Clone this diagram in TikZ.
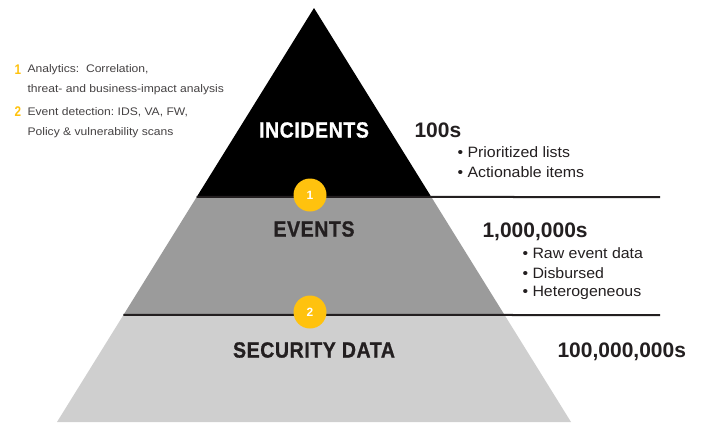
\documentclass[tikz,border=0pt]{standalone}
\usepackage{fontspec}
\setmainfont{Liberation Sans}
\newfontfamily\condbold[FakeStretch=0.89,FakeBold=0.9,LetterSpace=2.5]{Liberation Sans Bold}
\newfontfamily\numbold[FakeStretch=0.84]{Liberation Sans Bold}
\newfontfamily\widefont[FakeStretch=1.06]{Liberation Sans}
\newfontfamily\notefont[FakeStretch=1.1]{Liberation Sans}
\usepackage{tikz}
\usepackage{xcolor}
\usetikzlibrary{calc}
\usetikzlibrary{positioning}

\definecolor{tierblack}{HTML}{000000}
\definecolor{tierdark}{HTML}{9B9B9B}
\definecolor{tierlight}{HTML}{CFCFCF}
\definecolor{marker}{HTML}{FFC20E}
\definecolor{ink}{HTML}{231F20}

\tikzset{
  tiername/.style={font=\condbold\fontsize{22}{24}\selectfont, text=ink},
  count/.style={font=\bfseries\fontsize{21}{23}\selectfont, text=ink, anchor=west},
  bullet/.style={font=\widefont\fontsize{15}{17}\selectfont, text=ink, anchor=west},
  note/.style={font=\notefont\fontsize{11}{12}\selectfont, text=ink!85, anchor=west},
  notenum/.style={font=\numbold\fontsize{14}{14}\selectfont, text=marker, anchor=west},
  badge/.style={circle, fill=marker, minimum size=33pt, inner sep=0pt,
    font=\bfseries\fontsize{12}{12}\selectfont, text=white},
  divider/.style={line width=2pt, ink}
}

\begin{document}
\begin{tikzpicture}[x=1pt, y=-1pt]
  \useasboundingbox (0,0) rectangle (706,423);

  % pyramid corners
  \coordinate (apex) at (314, 8);
  \coordinate (bl) at (57, 422);
  \coordinate (br) at (571, 422);
  \coordinate (ml) at ($(apex)!0.4565!(bl)$);
  \coordinate (mr) at ($(apex)!0.4565!(br)$);
  \coordinate (ll) at ($(apex)!0.7415!(bl)$);
  \coordinate (lr) at ($(apex)!0.7415!(br)$);

%%%%%%%%%%%% tiers
  \fill[tierlight] (ll) -- (lr) -- (br) -- (bl) -- cycle;
  \fill[tierdark] (ml) -- (mr) -- (lr) -- (ll) -- cycle;
  \fill[tierblack] (apex) -- (mr) -- (ml) -- cycle;

  \coordinate (e1) at (660, 197);
  \coordinate (e2) at (660, 315);
  \draw[divider] (ml) -- (e1);
  \draw[divider] (ll) -- (e2);

  \node[tiername, text=white] (incidents) at (314, 130) {INCIDENTS};
  \node[tiername] (events) at (314, 229) {EVENTS};
  \node[tiername] (secdata) at (314, 350) {SECURITY DATA};

  \node[badge] (b1) at (310, 195) {1};
  \node[badge] (b2) at (310, 312) {2};

%%%%%%%%%%%% volumes
  \node[count] (c1) at (411, 130) {100s};
  \node[count] (c2) at (479, 232) {1,000,000s};
  \node[count] (c3) at (554, 352) {100,000,000s};

  \foreach \t [count=\i] in {Prioritized lists, Actionable items}
    \node[bullet] (p\i) at (454, 133+19.5*\i) {\textbullet\ \t};
  \foreach \t [count=\i] in {Raw event data, Disbursed, Heterogeneous}
    \node[bullet] (r\i) at (519, 234+19.5*\i) {\textbullet\ \t};

%%%%%%%%%%%% legend
  \node[notenum] (n1) at (11, 70) {1};
  \node[note] (t1) at (24, 70) {Analytics:\ \ Correlation,};
  \node[note] (t1b) at (24, 90) {threat- and business-impact analysis};
  \node[notenum] (n2) at (11, 112) {2};
  \node[note] (t2) at (24, 112) {Event detection:\ IDS, VA, FW,};
  \node[note] (t2b) at (24, 133) {Policy \& vulnerability scans};
\end{tikzpicture}
\end{document}
